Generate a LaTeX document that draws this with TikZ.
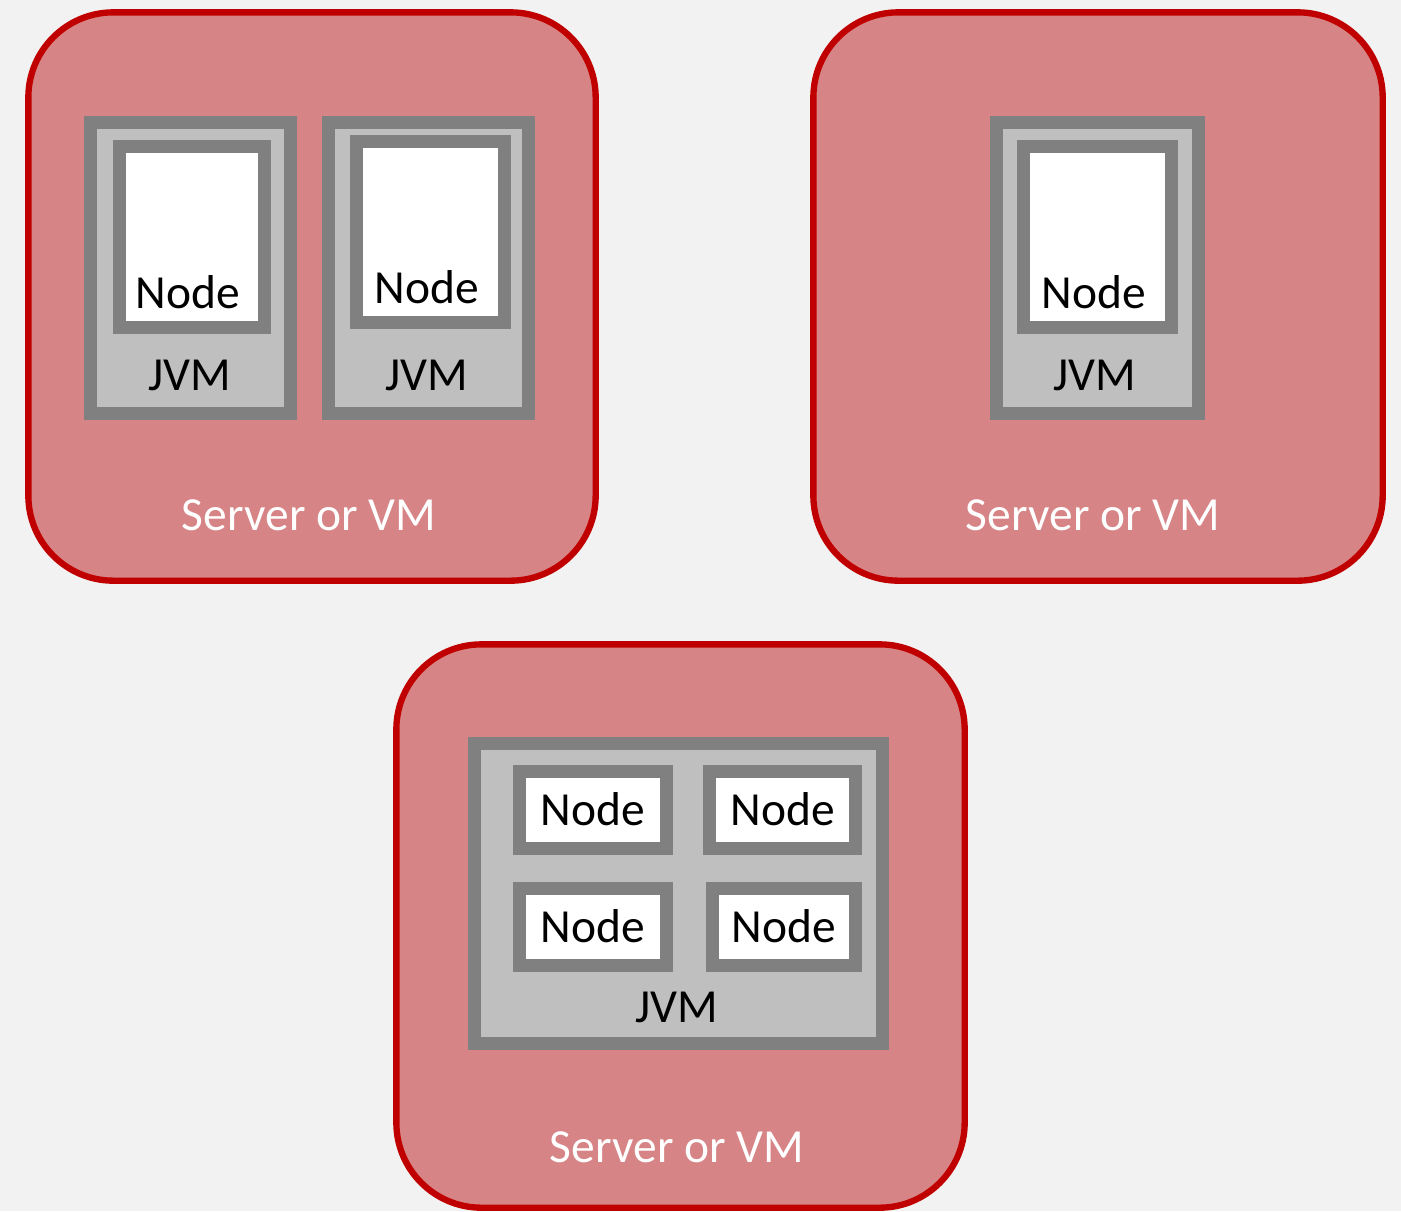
\documentclass[tikz,border=0pt]{standalone}
\usepackage{fontspec}
\setmainfont{Carlito}
\usetikzlibrary{positioning}

\definecolor{bgcol}{HTML}{F2F2F2}
\definecolor{srvred}{HTML}{C00000}
\definecolor{srvfill}{HTML}{D78486}
\definecolor{jvmgray}{HTML}{808080}
\definecolor{jvmlight}{HTML}{BFBFBF}

\begin{document}
\begin{tikzpicture}
[x=0.01cm, y=-0.01cm,
 server/.style={shape=rectangle,draw=srvred,fill=srvfill,line width=1.8pt,rounded corners=0.85cm,inner sep=0pt},
 jvm/.style={shape=rectangle,draw=jvmgray,fill=jvmlight,line width=0.13cm,inner sep=0pt},
 jnode/.style={shape=rectangle,draw=jvmgray,fill=white,line width=0.13cm,inner sep=0pt},
 lbl/.style={font=\fontsize{13.5}{16}\selectfont,anchor=base,inner sep=0pt},
 srvlbl/.style={lbl,text=white}]

\fill [bgcol] (0,0) rectangle (1401,1211);
\useasboundingbox (0,0) rectangle (1401,1211);

% server with two JVMs
\node (s1) [server,minimum width=5.67cm,minimum height=5.68cm] at (312,296.5) {};
\node (j1) [jvm,minimum width=2cm,minimum height=2.91cm] at (190.5,268) {};
\node (n1) [jnode,minimum width=1.45cm,minimum height=1.81cm] at (192,237) {};
\node (j2) [jvm,minimum width=2cm,minimum height=2.91cm] at (428.5,268) {};
\node (n2) [jnode,minimum width=1.48cm,minimum height=1.81cm] at (430.5,232) {};
\node (n1t) [lbl] at (188,308) {Node};
\node (n2t) [lbl] at (427,303) {Node};
\node (j1t) [lbl] at (190,390) {JVM};
\node (j2t) [lbl] at (427,390) {JVM};
\node (s1t) [srvlbl] at (309,530) {Server or VM};

% server with one JVM
\node (s2) [server,minimum width=5.69cm,minimum height=5.68cm] at (1098,296.5) {};
\node (j3) [jvm,minimum width=2.02cm,minimum height=2.91cm] at (1097.5,268) {};
\node (n3) [jnode,minimum width=1.48cm,minimum height=1.81cm] at (1097.5,237) {};
\node (n3t) [lbl] at (1094,308) {Node};
\node (j3t) [lbl] at (1095,390) {JVM};
\node (s2t) [srvlbl] at (1093,530) {Server or VM};

% server with one JVM holding four nodes
\node (s3) [server,minimum width=5.68cm,minimum height=5.63cm] at (680.5,926) {};
\node (j4) [jvm,minimum width=4.08cm,minimum height=3cm] at (678.5,893.5) {};
\node (n4) [jnode,minimum width=1.47cm,minimum height=0.77cm] at (593,810) {};
\node (n5) [jnode,minimum width=1.46cm,minimum height=0.77cm] at (782.5,810) {};
\node (n6) [jnode,minimum width=1.47cm,minimum height=0.77cm] at (593,927) {};
\node (n7) [jnode,minimum width=1.43cm,minimum height=0.77cm] at (784,927) {};
\foreach \n in {n4,n5,n6,n7}
  \node [lbl] at ([yshift=-0.15cm]\n.center) {Node};
\node (j4t) [lbl] at (677,1022) {JVM};
\node (s3t) [srvlbl] at (677,1162) {Server or VM};

\end{tikzpicture}
\end{document}
